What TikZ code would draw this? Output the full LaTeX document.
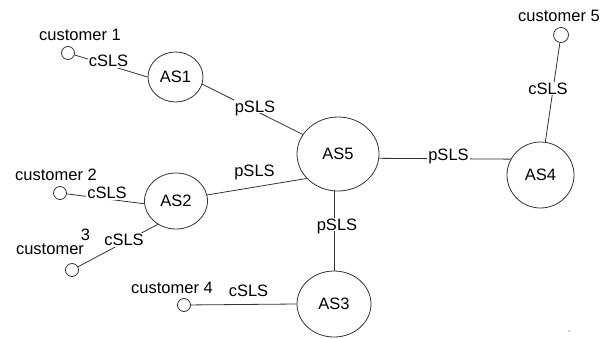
\documentclass[tikz,border=0pt]{standalone}
\usepackage{fontspec}
\setmainfont{Liberation Sans}
\usetikzlibrary{shapes.geometric}
\begin{document}
\begin{tikzpicture}[x=1pt,y=-1pt,
  asnode/.style={ellipse,draw=black!80,line width=0.8pt,inner sep=0pt,font=\fontsize{16.5}{18}\selectfont},
  cust/.style={circle,draw=black!80,line width=0.8pt,inner sep=0pt,minimum size=13pt},
  lbl/.style={inner sep=1pt,text height=11.8pt,text depth=0pt,font=\fontsize{16.5}{18}\selectfont},
  cutlbl/.style={lbl,fill=white},
  link/.style={draw=black!80,line width=0.8pt}]
\useasboundingbox (0,0) rectangle (602,338);
% AS nodes
\node[asnode,minimum width=55pt,minimum height=50pt] (AS1) at (175.5,77) {AS1};
\node[asnode,minimum width=63pt,minimum height=56pt] (AS2) at (176,201) {AS2};
\node[asnode,minimum width=74pt,minimum height=66pt] (AS3) at (334,304) {AS3};
\node[asnode,minimum width=67pt,minimum height=66pt] (AS4) at (540.5,175) {AS4};
\node[asnode,minimum width=82pt,minimum height=74pt] (AS5) at (338,154) {AS5};
% customers
\node[cust] (c1) at (68,53) {};
\node[cust] (c2) at (60,193) {};
\node[cust] (c3) at (72,270) {};
\node[cust] (c4) at (184,305) {};
\node[cust,minimum size=15pt] (c5) at (561,35) {};
% customer labels
\node[lbl] (t1) at (80,35) {customer 1};
\node[lbl] (t2) at (56,175) {customer 2};
\node[lbl] (t3) at (50,249) {customer};
\node[lbl] (t3b) at (85.5,235) {3};
\node[lbl] (t4) at (172,288) {customer 4};
\node[lbl] (t5) at (559,16) {customer 5};
% connectors
\draw[link] (c1) -- (AS1.west);
\draw[link] (c2) -- (AS2.185);
\draw[link] (c3) -- (AS2.232);
\draw[link] (c4) -- (AS3.west);
\draw[link] (c5) -- (AS4);
\draw[link] (AS1.-15) -- (AS5.151);
\draw[link] (AS2.11) -- (AS5.218);
\draw[link] (AS5.-6) -- (AS4.152);
\draw[link] (AS3.north) -- (AS3.north |- AS5.south);
% link labels
\node[cutlbl] (l1) at (108.5,61) {cSLS};
\node[cutlbl] (l2) at (107,193) {cSLS};
\node[cutlbl] (l3) at (124,240) {cSLS};
\node[lbl] (l4) at (248.5,291) {cSLS};
\node[cutlbl] (l5) at (548,88.5) {cSLS};
\node[cutlbl] (p1) at (255,106.5) {pSLS};
\node[lbl] (p2) at (254.5,170.5) {pSLS};
\node[cutlbl] (p3) at (448.5,155) {pSLS};
\node[cutlbl] (p4) at (337,224.5) {pSLS};
% speck
\fill[black!80] (569,331) circle (0.7pt);
\end{tikzpicture}
\end{document}
